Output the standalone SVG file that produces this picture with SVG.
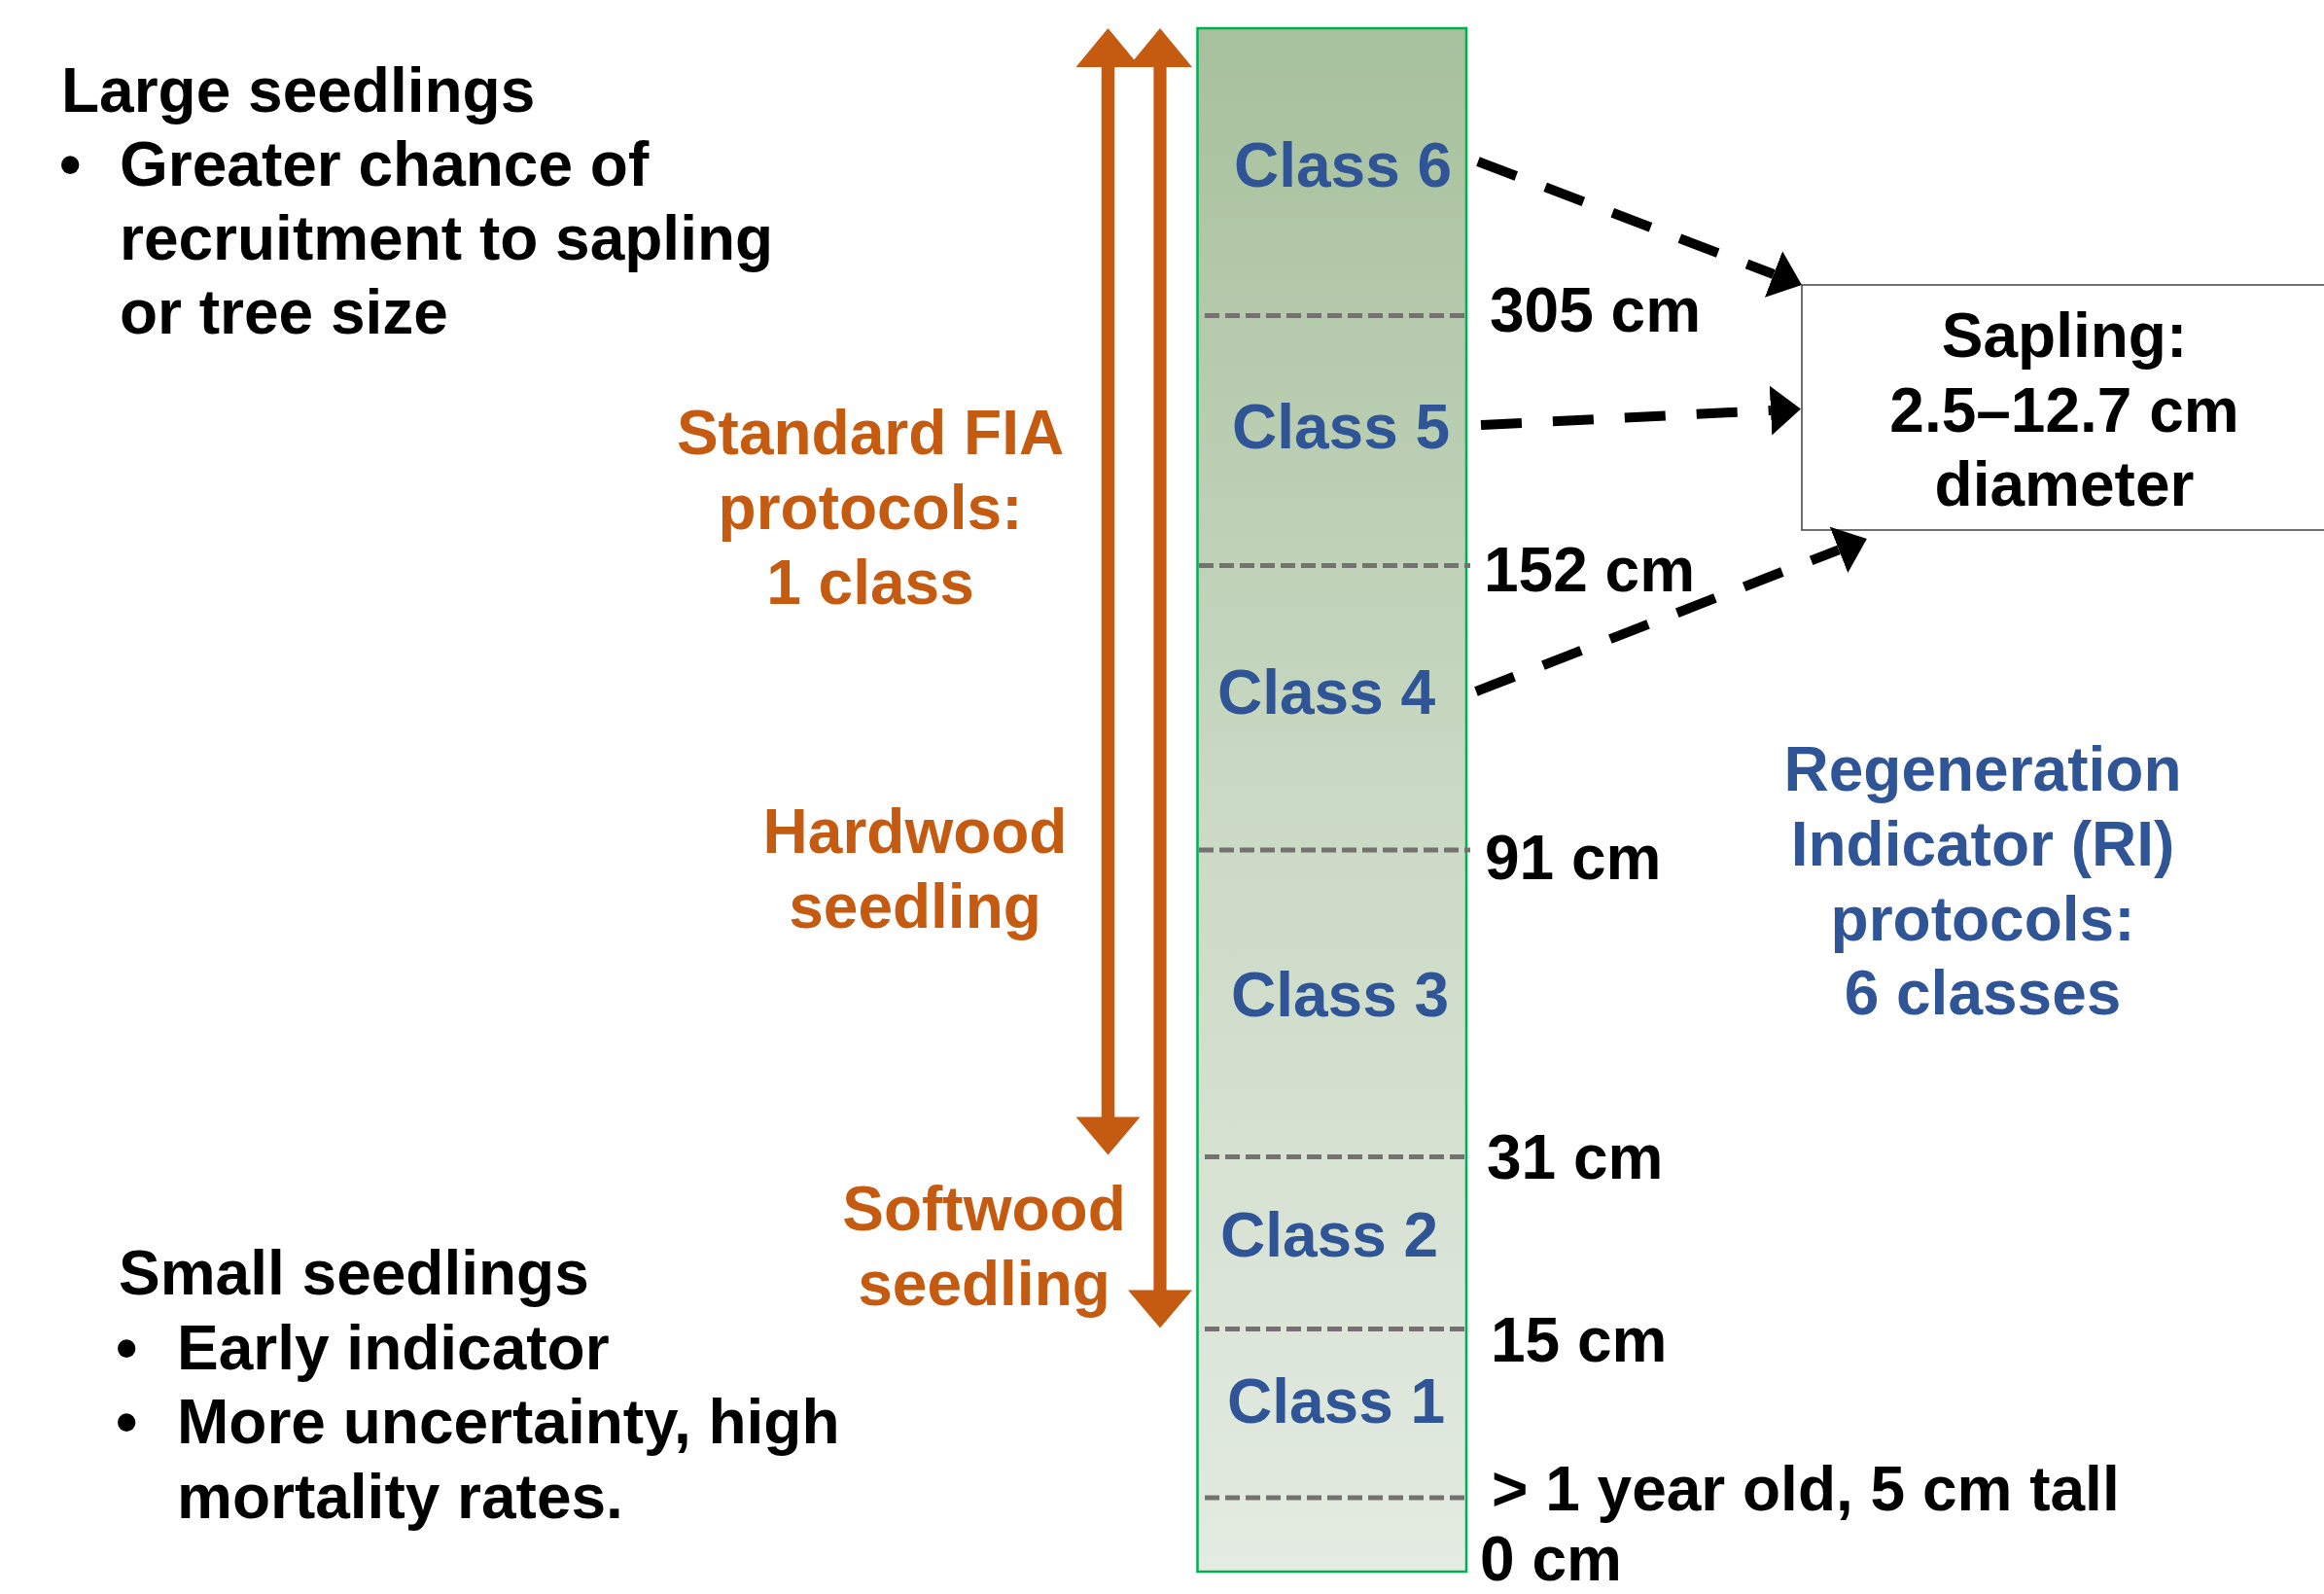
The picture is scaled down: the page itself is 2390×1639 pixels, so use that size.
<svg xmlns="http://www.w3.org/2000/svg" width="2390" height="1639" viewBox="0 0 2390 1639">
<style>
text{font-family:"Liberation Sans",Arial,sans-serif;font-weight:bold;font-size:64px}
.blk{fill:#000}
.blue{fill:#2f5597}
.org{fill:#c55a11}
.mid{text-anchor:middle}
.grid{stroke:#767171;stroke-width:5;stroke-dasharray:15 6;fill:none}
.conn{stroke:#000;stroke-width:10;stroke-dasharray:42 32;fill:none;marker-end:url(#ah)}
.range{fill:#c55a11}
</style>
<defs>
<linearGradient id="colg" x1="0" y1="0" x2="0" y2="1">
<stop offset="0" stop-color="#a7c09c"/>
<stop offset="0.5" stop-color="#cad9c4"/>
<stop offset="1" stop-color="#e4ebe2"/>
</linearGradient>
<marker id="ah" viewBox="0 0 31 51" markerUnits="userSpaceOnUse" markerWidth="31" markerHeight="51" refX="0" refY="25.5" orient="auto">
<path d="M0,0 L31,25.5 L0,51 Z" fill="#000"/>
</marker>
</defs>
<rect width="2390" height="1639" fill="#fff"/>

<g id="column">
<rect x="1231.5" y="29" width="276.5" height="1587" fill="url(#colg)" stroke="#00b050" stroke-width="2.5"/>
<line class="grid" x1="1239" y1="324.5" x2="1510" y2="324.5"/>
<line class="grid" x1="1233" y1="581.5" x2="1512" y2="581.5"/>
<line class="grid" x1="1233" y1="874" x2="1512" y2="874"/>
<line class="grid" x1="1239" y1="1189.5" x2="1508" y2="1189.5"/>
<line class="grid" x1="1239" y1="1366.5" x2="1510" y2="1366.5"/>
<line class="grid" x1="1239" y1="1540" x2="1510" y2="1540"/>
</g>

<g id="class-labels">
<text class="blue" x="1269" y="192">Class 6</text>
<text class="blue" x="1267" y="461">Class 5</text>
<text class="blue" x="1252" y="734">Class 4</text>
<text class="blue" x="1266" y="1045">Class 3</text>
<text class="blue" x="1255" y="1292">Class 2</text>
<text class="blue" x="1262" y="1463">Class 1</text>
</g>

<g id="height-labels">
<text class="blk" x="1532" y="341">305 cm</text>
<text class="blk" x="1526" y="608">152 cm</text>
<text class="blk" x="1527" y="904">91 cm</text>
<text class="blk" x="1529" y="1212">31 cm</text>
<text class="blk" x="1533" y="1400">15 cm</text>
<text class="blk" x="1534" y="1553">&gt; 1 year old, 5 cm tall</text>
<text class="blk" x="1522" y="1625">0 cm</text>
</g>

<g id="sapling">
<rect x="1853" y="293" width="600" height="252" fill="#fff" stroke="#404040" stroke-width="1.5"/>
<text class="blk mid" x="2123" y="367">Sapling:</text>
<text class="blk mid" x="2123" y="444">2.5–12.7 cm</text>
<text class="blk mid" x="2123" y="520">diameter</text>
</g>

<g id="ranges">
<path class="range" d="M1139.5,29 L1172.5,69 L1146.25,69 L1146.25,1148.5 L1172.5,1148.5 L1139.5,1187.5 L1106.5,1148.5 L1132.75,1148.5 L1132.75,69 L1106.5,69 Z"/>
<path class="range" d="M1193,29 L1226,69 L1199.6,69 L1199.6,1326.5 L1226,1326.5 L1193,1365.5 L1160,1326.5 L1186.4,1326.5 L1186.4,69 L1160,69 Z"/>
</g>

<g id="connectors">
<line class="conn" x1="1520" y1="166" x2="1824" y2="282"/>
<line class="conn" x1="1523" y1="437" x2="1821" y2="422"/>
<line class="conn" x1="1518" y1="711" x2="1891" y2="565.3"/>
</g>

<g id="fia-label">
<text class="org mid" x="895" y="467">Standard FIA</text>
<text class="org mid" x="895" y="544">protocols:</text>
<text class="org mid" x="895" y="621">1 class</text>
</g>

<g id="hardwood-label">
<text class="org mid" x="941" y="877">Hardwood</text>
<text class="org mid" x="941" y="954">seedling</text>
</g>

<g id="softwood-label">
<text class="org mid" x="1012" y="1265">Softwood</text>
<text class="org mid" x="1012" y="1342">seedling</text>
</g>

<g id="ri-label">
<text class="blue mid" x="2039" y="813">Regeneration</text>
<text class="blue mid" x="2039" y="890">Indicator (RI)</text>
<text class="blue mid" x="2039" y="967">protocols:</text>
<text class="blue mid" x="2039" y="1043">6 classes</text>
</g>

<g id="large-seedlings">
<text class="blk" x="63" y="115">Large seedlings</text>
<text class="blk" x="61" y="191">•</text>
<text class="blk" x="123" y="191">Greater chance of</text>
<text class="blk" x="123" y="267">recruitment to sapling</text>
<text class="blk" x="123" y="343">or tree size</text>
</g>

<g id="small-seedlings">
<text class="blk" x="122" y="1331">Small seedlings</text>
<text class="blk" x="119" y="1408">•</text>
<text class="blk" x="182" y="1408">Early indicator</text>
<text class="blk" x="119" y="1484">•</text>
<text class="blk" x="182" y="1484">More uncertainty, high</text>
<text class="blk" x="182" y="1561">mortality rates.</text>
</g>
</svg>
